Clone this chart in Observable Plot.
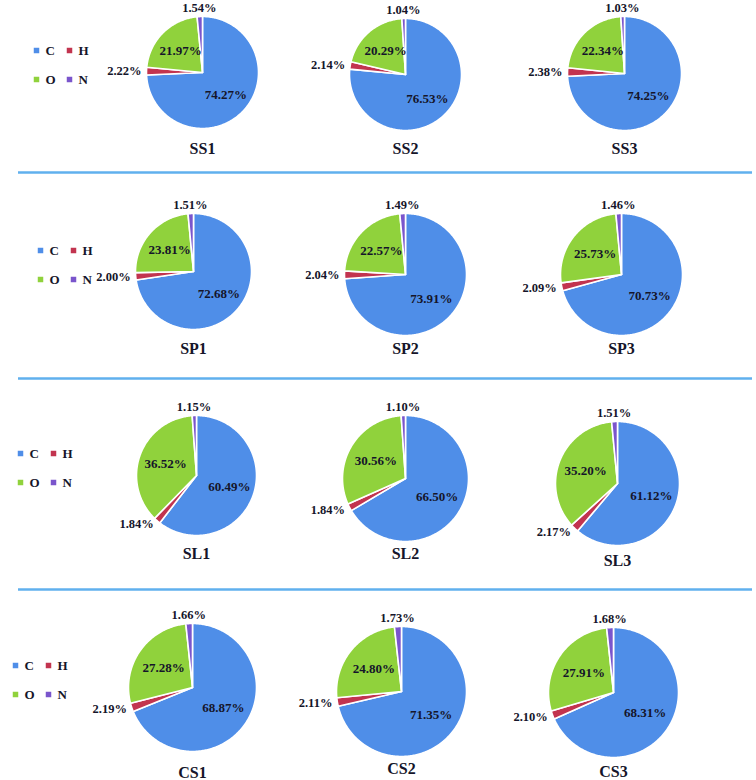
<!DOCTYPE html>
<html>
<head>
<meta charset="utf-8">
<script src="https://cdn.jsdelivr.net/npm/d3@7"></script>
<script src="https://cdn.jsdelivr.net/npm/@observablehq/plot@0.6"></script>
<style>
  html, body { margin: 0; padding: 0; background: #fff; }
  #chart svg { display: block; }
</style>
</head>
<body>
<div id="chart"></div>
<script>
// ---- data ----
const samples = ["SS1","SS2","SS3","SP1","SP2","SP3","SL1","SL2","SL3","CS1","CS2","CS3"];
const elements = ["C","H","O","N"];
const valC = [74.27,76.53,74.25,72.68,73.91,70.73,60.49,66.50,61.12,68.87,71.35,68.31];
const valH = [2.22,2.14,2.38,2.00,2.04,2.09,1.84,1.84,2.17,2.19,2.11,2.10];
const valO = [21.97,20.29,22.34,23.81,22.57,25.73,36.52,30.56,35.20,27.28,24.80,27.91];
const valN = [1.54,1.04,1.03,1.51,1.49,1.46,1.15,1.10,1.51,1.66,1.73,1.68];
const colors = ["#4f8ee8","#c2344f","#90d23c","#7a55cc"];

// ---- layout (positions only) ----
const pieCx = [202,405,624, 193,405,621, 196,405,617, 192,401,613];
const pieCy = [72,74,73, 271,274,274, 475,478,483, 687,691,692];
const pieR  = [56,56,57, 58,61,61, 60,63,62, 64,65,65];
const nameY = [148,148,148, 348,348,348, 553,553,560, 772,768,771];
const legendX = [36,40,20,15];
const legendY = [50,250,453,665];
const sepY = [172,378,589];

const W = 756, H = 780;
const values = [valC, valH, valO, valN];

const polys = [];
const labels = [];
samples.forEach((s, i) => {
  const data = elements.map((e, k) => ({e, v: values[k][i]}));
  const arcs = d3.pie().sort(null).value(d => d.v)(data);
  const cx = pieCx[i], cy = pieCy[i], r = pieR[i];
  arcs.forEach(a => {
    const id = s + a.data.e;
    polys.push({id, e: a.data.e, x: cx, y: cy});
    const n = Math.max(2, Math.ceil((a.endAngle - a.startAngle) / 0.015));
    for (let j = 0; j <= n; j++) {
      const t = a.startAngle + (a.endAngle - a.startAngle) * j / n;
      polys.push({id, e: a.data.e, x: cx + r * Math.sin(t), y: cy - r * Math.cos(t)});
    }
    const mid = (a.startAngle + a.endAngle) / 2;
    const e = a.data.e;
    const rr = e === "C" ? r * 0.58 : e === "O" ? r * 0.55 : e === "H" ? r + 5 : r + 9;
    labels.push({
      e,
      x: cx + rr * Math.sin(mid),
      y: cy - rr * Math.cos(mid),
      text: a.data.v.toFixed(2) + "%"
    });
  });
});

const names = samples.map((s, i) => ({s, x: pieCx[i], y: nameY[i]}));
const legendItems = [];
legendX.forEach((lx, row) => {
  elements.forEach((e, k) => {
    legendItems.push({e, x: lx + (k % 2) * 33, y: legendY[row] + Math.floor(k / 2) * 29});
  });
});

const font = "'Liberation Serif', 'Times New Roman', serif";
const ink = "#15152a";

const chart = Plot.plot({
  width: W,
  height: H,
  margin: 0,
  x: {domain: [0, W], range: [0, W], axis: null},
  y: {domain: [0, H], range: [0, H], axis: null},
  color: {domain: elements, range: colors},
  style: {fontFamily: font, background: "#fff"},
  marks: [
    Plot.ruleY(sepY, {x1: 18, x2: 752, stroke: "#60b0ee", strokeWidth: 2.5}),
    Plot.line(polys, {x: "x", y: "y", z: "id", fill: "e", stroke: "white", strokeWidth: 1.6, curve: "linear-closed"}),
    Plot.text(labels.filter(d => d.e === "C" || d.e === "O"), {x: "x", y: "y", text: "text", fontSize: 13, fontWeight: "bold", fill: ink, textAnchor: "middle"}),
    Plot.text(labels.filter(d => d.e === "H"), {x: "x", y: "y", text: "text", fontSize: 12.5, fontWeight: "bold", fill: ink, textAnchor: "end"}),
    Plot.text(labels.filter(d => d.e === "N"), {x: "x", y: "y", text: "text", fontSize: 12.5, fontWeight: "bold", fill: ink, textAnchor: "middle"}),
    Plot.text(names, {x: "x", y: "y", text: "s", fontSize: 16, fontWeight: "bold", fill: ink, textAnchor: "middle"}),
    Plot.dot(legendItems, {x: "x", y: "y", fill: "e", symbol: "square", r: 3.1}),
    Plot.text(legendItems, {x: d => d.x + 9, y: "y", text: "e", fontSize: 13, fontWeight: "bold", fill: ink, textAnchor: "start"})
  ]
});
document.getElementById("chart").appendChild(chart);
</script>
</body>
</html>
